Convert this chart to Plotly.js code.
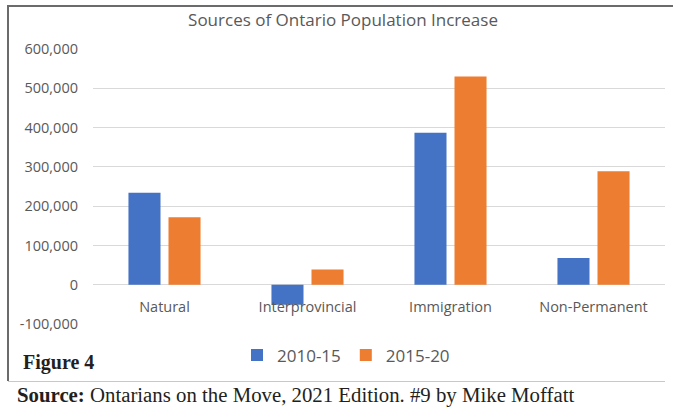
<!DOCTYPE html>
<html>
<head>
<meta charset="utf-8">
<script src="https://cdn.plot.ly/plotly-3.0.1.min.js"></script>
<style>
  html, body { margin: 0; padding: 0; background: #ffffff; }
  #chart { width: 673px; height: 408px; }
</style>
</head>
<body>
<div id="chart"></div>
<script>
// ---- data ----
var categories = ["Natural", "Interprovincial", "Immigration", "Non-Permanent"];
var seriesNames = ["2010-15", "2015-20"];
var values2010_15 = [234000, -51000, 387000, 68000];
var values2015_20 = [172000, 39000, 530000, 289000];
var yTickVals = [-100000, 0, 100000, 200000, 300000, 400000, 500000, 600000];
var yTickText = ["-100,000", "0", "100,000", "200,000", "300,000", "400,000", "500,000", "600,000"];
var titleText = "Sources of Ontario Population Increase";
var figureLabel = "Figure 4";
var sourceBold = "Source:";
var sourceText = "Ontarians on the Move, 2021 Edition. #9 by Mike Moffatt";

// ---- geometry helpers (pixel -> paper) ----
var W = 673, H = 408;
var mL = 93, mR = 8, mT = 49, mB = 84;
var pw = W - mL - mR, ph = H - mT - mB;
function px(x) { return (x - mL) / pw; }
function py(y) { return (H - mB - y) / ph; }

var gray = "#595959";
var sans = "Open Sans, Noto Sans, sans-serif";
var serif = "Liberation Serif, serif";

var traces = [
  { type: "bar", name: seriesNames[0], x: categories, y: values2010_15,
    marker: { color: "#4472C4" }, hoverinfo: "skip" },
  { type: "bar", name: seriesNames[1], x: categories, y: values2015_20,
    marker: { color: "#ED7D31" }, hoverinfo: "skip" }
];

var layout = {
  width: W, height: H,
  paper_bgcolor: "#ffffff", plot_bgcolor: "#ffffff",
  margin: { l: mL, r: mR, t: mT, b: mB, pad: 0, autoexpand: false },
  font: { family: sans, color: gray, size: 14.5 },
  barmode: "group", bargap: 0.44, bargroupgap: 0.2,
  title: {
    text: titleText,
    font: { family: sans, size: 17, color: gray },
    x: px(343), xref: "paper", xanchor: "center",
    y: 1 - 20 / H, yref: "container", yanchor: "middle"
  },
  xaxis: {
    type: "category",
    anchor: "free", position: 1 / 7,
    showgrid: false, showline: false, zeroline: false,
    ticks: "", ticklabelstandoff: 12,
    tickfont: { family: sans, size: 14.5, color: gray },
    fixedrange: true
  },
  yaxis: {
    range: [-100000, 600000],
    tickvals: yTickVals, ticktext: yTickText,
    showgrid: true, gridcolor: "#d9d9d9", gridwidth: 1,
    zeroline: true, zerolinecolor: "#d9d9d9", zerolinewidth: 1,
    showline: false, ticks: "", ticklabelstandoff: 14,
    tickfont: { family: sans, size: 14.5, color: gray },
    fixedrange: true
  },
  showlegend: true,
  legend: {
    orientation: "h",
    x: px(346), xanchor: "center",
    y: py(355.5), yanchor: "middle",
    font: { family: sans, size: 17, color: gray },
    bgcolor: "rgba(0,0,0,0)", traceorder: "normal"
  },
  shapes: [
    // top border
    { type: "line", xref: "paper", yref: "paper",
      x0: px(7), x1: px(673), y0: py(6), y1: py(6),
      line: { color: "#6b6b6b", width: 2 } },
    // left border
    { type: "line", xref: "paper", yref: "paper",
      x0: px(8), x1: px(8), y0: py(5), y1: py(381),
      line: { color: "#6b6b6b", width: 2 } },
    // separator above source
    { type: "line", xref: "paper", yref: "paper",
      x0: px(8), x1: px(665), y0: py(381.5), y1: py(381.5),
      line: { color: "#c8c8c8", width: 1 } }
  ],
  annotations: [
    { text: "<b>" + figureLabel + "</b>", xref: "paper", yref: "paper",
      x: px(21), xanchor: "left", y: py(362), yanchor: "middle",
      showarrow: false, font: { family: serif, size: 20, color: "#231f20" } },
    { text: "<b>" + sourceBold + "</b> " + sourceText, xref: "paper", yref: "paper",
      x: px(15), xanchor: "left", y: py(394.5), yanchor: "middle",
      showarrow: false, font: { family: serif, size: 20.8, color: "#231f20" } }
  ]
};

Plotly.newPlot("chart", traces, layout, { staticPlot: true, displayModeBar: false });
</script>
</body>
</html>
